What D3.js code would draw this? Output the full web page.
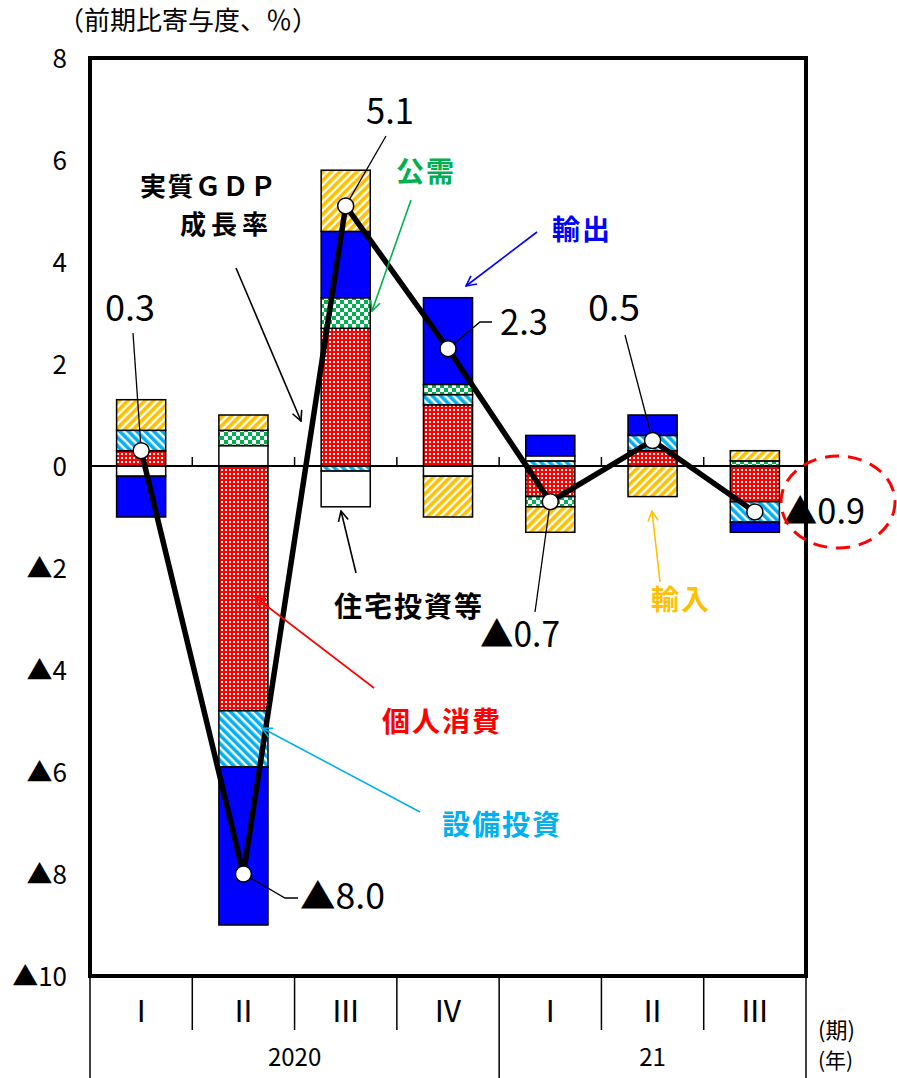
<!DOCTYPE html>
<html lang="ja">
<head>
<meta charset="utf-8">
<script src="https://cdn.jsdelivr.net/npm/d3@7"></script>
<style>
  html, body { margin: 0; padding: 0; background: #fff; }
  svg { display: block; }
  text { font-family: "Noto Sans CJK JP", "Noto Sans", sans-serif; }
</style>
</head>
<body>
<div id="chart"></div>
<script>
// 四半期（期）と年
const quarters = ["Ⅰ", "Ⅱ", "Ⅲ", "Ⅳ", "Ⅰ", "Ⅱ", "Ⅲ"];
const years = [
  { label: "2020", count: 4 },
  { label: "21", count: 3 }
];

// 需要項目別寄与度（%ポイント）
const consumption = [0.3, -4.8, 2.7, 1.2, -0.6, 0.3, -0.7];   // 個人消費
const capex       = [0.4, -1.1, -0.1, 0.2, 0.1, 0.3, -0.4];   // 設備投資
const housing     = [-0.2, 0.4, -0.7, -0.2, 0.1, 0.0, 0.0];   // 住宅投資等
const publicDem   = [0.0, 0.3, 0.6, 0.2, -0.2, 0.0, 0.1];     // 公需
const exportsC    = [-0.8, -3.1, 1.3, 1.7, 0.4, 0.4, -0.2];   // 輸出
const importsC    = [0.6, 0.3, 1.2, -0.8, -0.5, -0.6, 0.2];   // 輸入

// 実質GDP成長率（前期比、%）
const gdp = [0.3, -8.0, 5.1, 2.3, -0.7, 0.5, -0.9];

// 縦軸目盛
const yTicks = [8, 6, 4, 2, 0, -2, -4, -6, -8, -10];
const yTickLabels = ["8", "6", "4", "2", "0", "▲2", "▲4", "▲6", "▲8", "▲10"];

const seriesKeys = ["個人消費", "設備投資", "住宅投資等", "公需", "輸出", "輸入"];
const seriesValues = [consumption, capex, housing, publicDem, exportsC, importsC];

const W = 897, H = 1078;
const plot = { left: 90, right: 806, top: 58, bottom: 976 };

const svg = d3.select("#chart").append("svg")
  .attr("width", W).attr("height", H)
  .attr("viewBox", `0 0 ${W} ${H}`);

const defs = svg.append("defs");

// 塗りパターン
function stripes(id, color, angle) {
  const p = defs.append("pattern").attr("id", id)
    .attr("patternUnits", "userSpaceOnUse")
    .attr("width", 6).attr("height", 6)
    .attr("patternTransform", `rotate(${angle})`);
  p.append("rect").attr("width", 6).attr("height", 6).attr("fill", "#fff");
  p.append("rect").attr("width", 3.6).attr("height", 6).attr("fill", color);
}
stripes("pCapex", "#00B0F0", -45);
stripes("pImports", "#FFC000", 45);

{
  const p = defs.append("pattern").attr("id", "pConsumption")
    .attr("patternUnits", "userSpaceOnUse").attr("width", 4).attr("height", 4);
  p.append("rect").attr("width", 4).attr("height", 4).attr("fill", "#FF0000");
  p.append("rect").attr("x", 1).attr("y", 1).attr("width", 2).attr("height", 2).attr("fill", "#fff");
}
{
  const p = defs.append("pattern").attr("id", "pPublic")
    .attr("patternUnits", "userSpaceOnUse").attr("width", 8).attr("height", 8);
  p.append("rect").attr("width", 8).attr("height", 8).attr("fill", "#fff");
  p.append("rect").attr("width", 4).attr("height", 4).attr("fill", "#00B050");
  p.append("rect").attr("x", 4).attr("y", 4).attr("width", 4).attr("height", 4).attr("fill", "#00B050");
}

const fills = {
  "個人消費": "url(#pConsumption)",
  "設備投資": "url(#pCapex)",
  "住宅投資等": "#ffffff",
  "公需": "url(#pPublic)",
  "輸出": "#0000FF",
  "輸入": "url(#pImports)"
};

// 矢印
function arrowMarker(id, color) {
  defs.append("marker").attr("id", id)
    .attr("viewBox", "0 0 12 12").attr("refX", 11).attr("refY", 6)
    .attr("markerWidth", 12).attr("markerHeight", 12)
    .attr("markerUnits", "userSpaceOnUse")
    .attr("orient", "auto")
    .append("path").attr("d", "M1,1 L11,6 L1,11")
    .attr("fill", "none").attr("stroke", color).attr("stroke-width", 1.6);
}

// スケール
const x = d3.scaleBand().domain(d3.range(quarters.length))
  .range([plot.left, plot.right]).paddingInner(0).paddingOuter(0);
const y = d3.scaleLinear().domain([-10, 8]).range([plot.bottom, plot.top]);
const barW = x.bandwidth() * 0.48;
const cx = i => x(i) + x.bandwidth() / 2;

// 積み上げ
const rows = quarters.map((q, i) => {
  const r = { i };
  seriesKeys.forEach((k, j) => { r[k] = seriesValues[j][i]; });
  return r;
});
const stacked = d3.stack().keys(seriesKeys).offset(d3.stackOffsetDiverging)(rows);

const barG = svg.append("g");
stacked.forEach(layer => {
  barG.append("g").selectAll("rect")
    .data(layer.filter(d => Math.abs(d[1] - d[0]) > 1e-9))
    .join("rect")
    .attr("x", d => cx(d.data.i) - barW / 2)
    .attr("width", barW)
    .attr("y", d => y(Math.max(d[0], d[1])))
    .attr("height", d => Math.abs(y(d[0]) - y(d[1])))
    .attr("fill", fills[layer.key])
    .attr("stroke", "#000").attr("stroke-width", 1.5);
});

// ゼロ線と区切り目盛
svg.append("line")
  .attr("x1", plot.left).attr("x2", plot.right)
  .attr("y1", y(0)).attr("y2", y(0))
  .attr("stroke", "#000").attr("stroke-width", 2);
svg.append("g").selectAll("line")
  .data(d3.range(1, quarters.length))
  .join("line")
  .attr("x1", i => x(i)).attr("x2", i => x(i))
  .attr("y1", y(0)).attr("y2", y(0) - 9)
  .attr("stroke", "#000").attr("stroke-width", 1.5);

// 枠
svg.append("rect")
  .attr("x", plot.left).attr("y", plot.top)
  .attr("width", plot.right - plot.left).attr("height", plot.bottom - plot.top)
  .attr("fill", "none").attr("stroke", "#000").attr("stroke-width", 4);

// 縦軸ラベル
const yAxis = d3.axisLeft(y).tickValues(yTicks).tickSize(0).tickPadding(0)
  .tickFormat((d, i) => yTickLabels[i]);
const yAxisG = svg.append("g").attr("transform", "translate(67,0)").call(yAxis);
yAxisG.select(".domain").remove();
yAxisG.selectAll("text")
  .attr("font-family", "'Noto Sans CJK JP', sans-serif")
  .attr("font-size", 26).attr("fill", "#000").attr("dy", "0.36em");

// 単位
svg.append("text").attr("x", 58).attr("y", 30)
  .attr("font-size", 26).attr("fill", "#000")
  .text("（前期比寄与度、％）");

// GDP成長率の折れ線
const line = d3.line().x((d, i) => cx(i)).y(d => y(d));

// 値ラベル用の引出線
const leaderG = svg.append("g");

svg.append("path").datum(gdp)
  .attr("d", line).attr("fill", "none")
  .attr("stroke", "#000").attr("stroke-width", 5.5)
  .attr("stroke-linejoin", "miter");

const fmt = v => (v < 0 ? "▲" : "") + Math.abs(v).toFixed(1);

// 値ラベルの配置（引出線の先端、文字位置、文字幅）
const gdpLabelLayout = [
  { lead: [[133, 333]], tx: 105, ty: 321, tw: 50 },
  { lead: [[285, 898], [298, 898]], tx: 300, ty: 909, tw: 85 },
  { lead: [[386, 136]], tx: 366, ty: 124, tw: 48 },
  { lead: [[480, 322], [492, 322]], tx: 500, ty: 335, tw: 48 },
  { lead: [[535, 612]], tx: 480, ty: 647, tw: 80 },
  { lead: [[625, 335]], tx: 588, ty: 321, tw: 52 },
  { lead: [], tx: 783, ty: 524, tw: 82 }
];

gdp.forEach((v, i) => {
  const L = gdpLabelLayout[i];
  if (L.lead.length) {
    const pts = [[cx(i), y(v)], ...L.lead];
    leaderG.append("path").attr("d", d3.line()(pts))
      .attr("fill", "none").attr("stroke", "#000").attr("stroke-width", 1.3);
  }
  svg.append("text")
    .attr("x", L.tx).attr("y", L.ty)
    .attr("font-size", 35).attr("fill", "#000")
    .attr("textLength", L.tw).attr("lengthAdjust", "spacingAndGlyphs")
    .text(fmt(v));
});

svg.append("g").selectAll("circle")
  .data(gdp).join("circle")
  .attr("cx", (d, i) => cx(i)).attr("cy", d => y(d))
  .attr("r", 8).attr("fill", "#fff")
  .attr("stroke", "#000").attr("stroke-width", 1.5);

// 直近値の強調
svg.append("ellipse")
  .attr("cx", 838).attr("cy", 502).attr("rx", 57).attr("ry", 46)
  .attr("fill", "none").attr("stroke", "#FF0000")
  .attr("stroke-width", 3).attr("stroke-dasharray", "14,9");

// 系列名と矢印
const callouts = [
  { text: "公需", color: "#00B050", x: 396, y: 182, from: [411, 200], to: [372, 311] },
  { text: "輸出", color: "#0000FF", x: 552, y: 240, from: [537, 232], to: [466, 286] },
  { text: "輸入", color: "#FFC000", x: 651, y: 610, from: [660, 582], to: [652, 511] },
  { text: "住宅投資等", color: "#000000", x: 334, y: 617, from: [356, 573], to: [341, 511] },
  { text: "個人消費", color: "#FF0000", x: 382, y: 732, from: [374, 688], to: [255, 597] },
  { text: "設備投資", color: "#00B0F0", x: 442, y: 835, from: [420, 812], to: [262, 728] }
];
callouts.forEach((c, k) => {
  const mid = "arr" + k;
  arrowMarker(mid, c.color);
  svg.append("line")
    .attr("x1", c.from[0]).attr("y1", c.from[1])
    .attr("x2", c.to[0]).attr("y2", c.to[1])
    .attr("stroke", c.color).attr("stroke-width", 1.6)
    .attr("marker-end", `url(#${mid})`);
  svg.append("text").attr("x", c.x).attr("y", c.y)
    .attr("font-size", 28).attr("font-weight", 700)
    .attr("letter-spacing", 2)
    .attr("fill", c.color).text(c.text);
});

// 実質GDP成長率の見出し
arrowMarker("arrGdp", "#000");
svg.append("line")
  .attr("x1", 236).attr("y1", 268).attr("x2", 301).attr("y2", 421)
  .attr("stroke", "#000").attr("stroke-width", 1.6)
  .attr("marker-end", "url(#arrGdp)");
svg.append("text").attr("x", 140).attr("y", 196)
  .attr("font-size", 26).attr("font-weight", 700).attr("letter-spacing", 1.5)
  .text("実質ＧＤＰ");
svg.append("text").attr("x", 180).attr("y", 234)
  .attr("font-size", 26).attr("font-weight", 700).attr("letter-spacing", 5)
  .text("成長率");

// 横軸（期・年）
const axisG = svg.append("g");
const tableBottom = H;
const quarterRowBottom = 1030;
let yearStarts = [0];
years.forEach(yr => yearStarts.push(yearStarts[yearStarts.length - 1] + yr.count));
d3.range(quarters.length + 1).forEach(i => {
  const xx = i < quarters.length ? x(i) : plot.right;
  const full = yearStarts.includes(i);
  axisG.append("line")
    .attr("x1", xx).attr("x2", xx)
    .attr("y1", plot.bottom).attr("y2", full ? tableBottom : quarterRowBottom)
    .attr("stroke", "#000").attr("stroke-width", 1.5);
});
axisG.selectAll("text.q").data(quarters).join("text")
  .attr("class", "q")
  .attr("x", (d, i) => cx(i)).attr("y", 1022)
  .attr("text-anchor", "middle")
  .attr("font-family", "'DejaVu Serif', 'Liberation Serif', serif")
  .attr("font-size", 30).attr("fill", "#000")
  .text(d => d);
years.forEach((yr, k) => {
  const a = x(yearStarts[k]);
  const b = yearStarts[k + 1] < quarters.length ? x(yearStarts[k + 1]) : plot.right;
  axisG.append("text")
    .attr("x", (a + b) / 2).attr("y", 1066)
    .attr("text-anchor", "middle")
    .attr("font-size", 24).attr("fill", "#000")
    .text(yr.label);
});
axisG.append("text").attr("x", 818).attr("y", 1038)
  .attr("font-size", 22).text("(期)");
axisG.append("text").attr("x", 818).attr("y", 1068)
  .attr("font-size", 21).text("(年)");
</script>
</body>
</html>
